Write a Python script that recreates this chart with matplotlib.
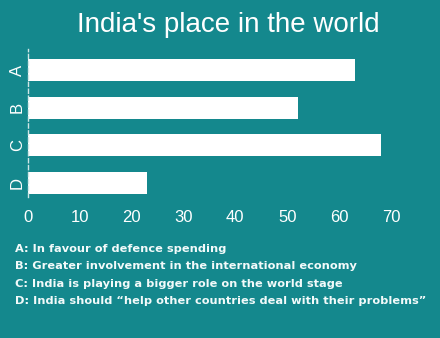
import matplotlib
matplotlib.use("Agg")
import matplotlib.pyplot as plt

# chart data
categories = ["A", "B", "C", "D"]
values = [63, 52, 68, 23]
notes = [
    "A: In favour of defence spending",
    "B: Greater involvement in the international economy",
    "C: India is playing a bigger role on the world stage",
    "D: India should \u201chelp other countries deal with their problems\u201d",
]
xticks = [0, 10, 20, 30, 40, 50, 60, 70]

bg = "#14888d"
plt.rcParams["font.family"] = ["Liberation Sans", "DejaVu Sans"]

fig = plt.figure(figsize=(4.4, 3.38), dpi=100)
fig.patch.set_facecolor(bg)

W, H = 440, 338
left, right, top, bottom = 27.7, 430, 49, 197
ax = fig.add_axes([left / W, 1 - bottom / H, (right - left) / W, (bottom - top) / H])
ax.set_facecolor(bg)

pos = list(range(len(categories)))
ax.barh(pos, values, height=0.58, color="white")
ax.set_ylim(3.37, -0.557)
ax.set_xlim(0, (right - left) / 5.19)

ax.set_xticks(xticks)
ax.set_yticks(pos)
ax.set_yticklabels(categories, rotation=90, va="center")
ax.tick_params(axis="both", length=0, colors="white", labelsize=12)
ax.tick_params(axis="x", pad=9)
ax.tick_params(axis="y", pad=2)

for s in ["top", "right", "bottom"]:
    ax.spines[s].set_visible(False)
ax.spines["left"].set_color("#cfe6e6")
ax.spines["left"].set_linestyle((0, (3, 2)))
ax.spines["left"].set_linewidth(1)

fig.text(228 / W, 1 - 25 / H, "India's place in the world", color="white",
         fontsize=20, ha="center", va="center")

# footnote key, wide bold face
ys = [249, 266, 284, 301]
for y, t in zip(ys, notes):
    fig.text(15 / W, 1 - y / H, t, color="#f2fafa", fontsize=8.2,
             fontweight="bold", family="DejaVu Sans", ha="left", va="center")

fig.savefig("out.png", dpi=100, facecolor=bg)
